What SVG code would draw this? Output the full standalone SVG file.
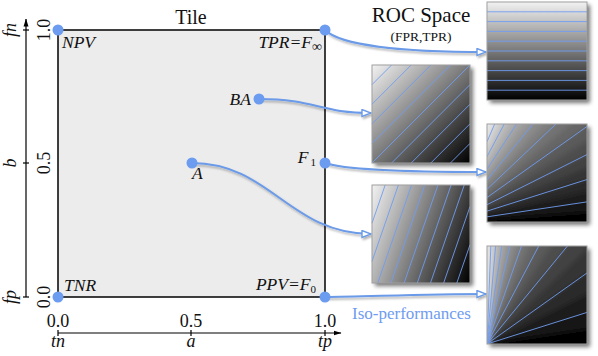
<svg xmlns="http://www.w3.org/2000/svg" width="598" height="356" viewBox="0 0 598 356">
<style>
text{font-family:"Liberation Serif","Times New Roman",serif;fill:#111}
.it{font-style:italic}
.lbl{font-size:17.5px;font-style:italic}
.tick{font-size:18px}
.title{font-size:20px;text-anchor:middle}
.iso{stroke:#6f9cf0;stroke-width:0.9;fill:none}
.frame{fill:none;stroke:#a0a0a0;stroke-width:1}
.shadow{fill:#000}
.con{fill:none;stroke:#6a9ae8;stroke-width:2;marker-end:url(#oa)}
.dot{fill:#6b9cf0}
.axis{stroke:#000;stroke-width:1.2;fill:none}
.w{stroke-width:0.7}
</style>
<defs>
<filter id="sh" x="-20%" y="-20%" width="150%" height="150%">
<feGaussianBlur in="SourceAlpha" stdDeviation="2"/>
<feOffset dx="3" dy="3"/>
<feComponentTransfer><feFuncA type="linear" slope="0.55"/></feComponentTransfer>
</filter>
<filter id="lsh" x="-10%" y="-30%" width="130%" height="180%">
<feDropShadow dx="1.5" dy="2" stdDeviation="1.2" flood-color="#000" flood-opacity="0.3"/>
</filter>
<filter id="soft" x="-5%" y="-5%" width="110%" height="110%">
<feGaussianBlur stdDeviation="2.5"/>
</filter>
<marker id="oa" viewBox="0 0 11 9" refX="10" refY="4.5" markerWidth="11" markerHeight="9" markerUnits="userSpaceOnUse" orient="auto">
<path d="M1,1 L10,4.5 L1,8 Z" fill="#fff" stroke="#6a9ae8" stroke-width="1.4"/>
</marker>
<marker id="ax" viewBox="0 0 8 6" refX="7.5" refY="3" markerWidth="8" markerHeight="6" markerUnits="userSpaceOnUse" orient="auto">
<path d="M0,0.5 L8,3 L0,5.5 Z" fill="#000"/>
</marker>
<linearGradient id="gTPR" gradientUnits="userSpaceOnUse" x1="0" y1="100" x2="0" y2="2">
<stop offset="0" stop-color="#000"/><stop offset="1" stop-color="#f2f2f2"/>
</linearGradient>
<linearGradient id="gBA" gradientUnits="userSpaceOnUse" x1="470" y1="163" x2="372" y2="65">
<stop offset="0" stop-color="#000"/><stop offset="1" stop-color="#f2f2f2"/>
</linearGradient>
<linearGradient id="gA" gradientUnits="userSpaceOnUse" x1="470" y1="283" x2="352.24" y2="242.4">
<stop offset="0" stop-color="#000"/><stop offset="1" stop-color="#f2f2f2"/>
</linearGradient>
<clipPath id="cF1"><rect x="487" y="124" width="100" height="98"/></clipPath>
<clipPath id="cF0"><rect x="487" y="246" width="100" height="98"/></clipPath>
</defs>

<g id="axes">
<line class="axis" x1="26" y1="297" x2="26" y2="19" marker-end="url(#ax)"/>
<line class="axis" x1="23" y1="30" x2="29" y2="30"/>
<line class="axis" x1="23" y1="163" x2="29" y2="163"/>
<line class="axis" x1="23" y1="297" x2="29" y2="297"/>
<line class="axis" x1="58" y1="333" x2="341" y2="333" marker-end="url(#ax)"/>
<line class="axis" x1="58" y1="330" x2="58" y2="336"/>
<line class="axis" x1="191" y1="330" x2="191" y2="336"/>
<line class="axis" x1="325" y1="330" x2="325" y2="336"/>
<text class="tick" text-anchor="middle" transform="translate(50,30) rotate(-90)">1.0</text>
<text class="tick" text-anchor="middle" transform="translate(50,163) rotate(-90)">0.5</text>
<text class="tick" text-anchor="middle" transform="translate(50,297) rotate(-90)">0.0</text>
<text class="tick it" text-anchor="middle" transform="translate(15.5,30) rotate(-90)">fn</text>
<text class="tick it" text-anchor="middle" transform="translate(15.5,163) rotate(-90)">b</text>
<text class="tick it" text-anchor="middle" transform="translate(15.5,297) rotate(-90)">fp</text>
<text class="tick" x="58" y="327" text-anchor="middle">0.0</text>
<text class="tick" x="191" y="327" text-anchor="middle">0.5</text>
<text class="tick" x="325" y="327" text-anchor="middle">1.0</text>
<text class="tick it" x="58" y="347" text-anchor="middle">tn</text>
<text class="tick it" x="191" y="347" text-anchor="middle">a</text>
<text class="tick it" x="325" y="347" text-anchor="middle">tp</text>
</g>

<g id="tile">
<rect x="58" y="30" width="267" height="267" fill="#ececec" stroke="#000" stroke-width="1.5"/>
<text class="title" x="191" y="24">Tile</text>
</g>

<g id="roc-title">
<text x="421" y="22" font-size="21" text-anchor="middle">ROC Space</text>
<text x="421" y="41" font-size="13.5" text-anchor="middle">(FPR,TPR)</text>
</g>

<g id="connectors" filter="url(#lsh)">
<path class="con" d="M325,30 C340,45 400,52 486,52"/>
<path class="con" d="M259,99 C315,99 320,113 371,113"/>
<path class="con" d="M325,163 C345,170 420,172 486,172"/>
<path class="con" d="M192,163 C270,163 290,234 371,234"/>
<path class="con" d="M325,297 C360,297 420,294 486,294"/>
</g>

<g id="npv"><circle class="dot" cx="58" cy="30" r="5.5"/><text class="lbl" x="62" y="48">NPV</text></g>
<g id="tpr"><circle class="dot" cx="325" cy="30" r="5.5"/><text class="lbl" x="322" y="48" text-anchor="end">TPR=F<tspan font-size="14" font-style="normal" dy="3">∞</tspan></text></g>
<g id="ba"><circle class="dot" cx="259" cy="99" r="5.5"/><text class="lbl" x="251" y="105" text-anchor="end">BA</text></g>
<g id="f1"><circle class="dot" cx="325" cy="163" r="5.5"/><text class="lbl" x="316" y="163" text-anchor="end">F<tspan font-size="11" font-style="normal" dx="2" dy="3">1</tspan></text></g>
<g id="a"><circle class="dot" cx="192" cy="163" r="5.5"/><text class="lbl" x="192" y="179">A</text></g>
<g id="tnr"><circle class="dot" cx="58" cy="297" r="5.5"/><text class="lbl" x="64" y="291">TNR</text></g>
<g id="ppv"><circle class="dot" cx="325" cy="297" r="5.5"/><text class="lbl" x="316" y="290" text-anchor="end">PPV=F<tspan font-size="11" font-style="normal" dy="3">0</tspan></text></g>

<g id="panel-tpr">
<rect class="shadow" x="487" y="2" width="100" height="98" filter="url(#sh)"/>
<rect x="487" y="2" width="100" height="98" fill="url(#gTPR)"/>
<path class="iso" d="M487,11.8H587M487,21.6H587M487,31.4H587M487,41.2H587M487,51H587M487,60.8H587M487,70.6H587M487,80.4H587M487,90.2H587"/>
<rect class="frame" x="487" y="2" width="100" height="98"/>
</g>

<g id="panel-ba">
<rect class="shadow" x="372" y="65" width="98" height="98" filter="url(#sh)"/>
<rect x="372" y="65" width="98" height="98" fill="url(#gBA)"/>
<path class="iso" d="M372,84.6L391.6,65M372,104.2L411.2,65M372,123.8L430.8,65M372,143.4L450.4,65M372,163L470,65M391.6,163L470,84.6M411.2,163L470,104.2M430.8,163L470,123.8M450.4,163L470,143.4"/>
<rect class="frame" x="372" y="65" width="98" height="98"/>
</g>

<g id="panel-f1">
<rect class="shadow" x="487" y="124" width="100" height="98" filter="url(#sh)"/>
<g clip-path="url(#cF1)">
<rect x="487" y="124" width="100" height="98" fill="#000"/>
<g filter="url(#soft)">
<path class="w" fill="#060606" stroke="#060606" d="M452.52,222L602.5,222L602.5,211.07Z"/>
<path class="w" fill="#121212" stroke="#121212" d="M452.52,222L602.5,211.07L602.5,199.56Z"/>
<path class="w" fill="#1e1e1e" stroke="#1e1e1e" d="M452.52,222L602.5,199.56L602.5,187.43Z"/>
<path class="w" fill="#2a2a2a" stroke="#2a2a2a" d="M452.52,222L602.5,187.43L602.5,174.63Z"/>
<path class="w" fill="#363636" stroke="#363636" d="M452.52,222L602.5,174.63L602.5,161.1Z"/>
<path class="w" fill="#424242" stroke="#424242" d="M452.52,222L602.5,161.1L602.5,146.77Z"/>
<path class="w" fill="#4e4e4e" stroke="#4e4e4e" d="M452.52,222L602.5,146.77L602.5,131.57Z"/>
<path class="w" fill="#5a5a5a" stroke="#5a5a5a" d="M452.52,222L602.5,131.57L602.5,115.42Z"/>
<path class="w" fill="#666666" stroke="#666666" d="M452.52,222L602.5,115.42L602.5,98.24Z"/>
<path class="w" fill="#727272" stroke="#727272" d="M452.52,222L602.5,98.24L602.5,79.9Z"/>
<path class="w" fill="#7e7e7e" stroke="#7e7e7e" d="M452.52,222L602.5,79.9L602.5,60.3Z"/>
<path class="w" fill="#8a8a8a" stroke="#8a8a8a" d="M452.52,222L602.5,60.3L602.5,39.3Z"/>
<path class="w" fill="#969696" stroke="#969696" d="M452.52,222L602.5,39.3L602.5,16.74Z"/>
<path class="w" fill="#a2a2a2" stroke="#a2a2a2" d="M452.52,222L602.5,16.74L602.5,-7.55Z"/>
<path class="w" fill="#aeaeae" stroke="#aeaeae" d="M452.52,222L602.5,-7.55L602.5,-33.78Z"/>
<path class="w" fill="#bababa" stroke="#bababa" d="M452.52,222L602.5,-33.78L602.5,-62.2Z"/>
<path class="w" fill="#c6c6c6" stroke="#c6c6c6" d="M452.52,222L602.5,-62.2L602.5,-93.09Z"/>
<path class="w" fill="#d2d2d2" stroke="#d2d2d2" d="M452.52,222L602.5,-93.09L602.5,-126.79Z"/>
<path class="w" fill="#dedede" stroke="#dedede" d="M452.52,222L602.5,-126.79L602.5,-163.7Z"/>
<path class="w" fill="#eaeaea" stroke="#eaeaea" d="M452.52,222L602.5,-163.7L602.5,-400L420,-400Z"/>
</g>
<path class="iso" d="M487,216.84L587,201.88M487,211.11L587,179.53M487,204.71L587,154.56M487,197.5L587,126.45M487,189.33L555.97,124M487,180L532.98,124M487,169.23L516.56,124M487,156.67L504.24,124M487,141.82L494.66,124"/>
</g>
<rect class="frame" x="487" y="124" width="100" height="98"/>
</g>

<g id="panel-a">
<rect class="shadow" x="372" y="185" width="98" height="98" filter="url(#sh)"/>
<rect x="372" y="185" width="98" height="98" fill="url(#gA)"/>
<path class="iso" d="M372,223.22L385.18,185M372,261.44L398.36,185M377.74,283L411.54,185M390.92,283L424.72,185M404.1,283L437.9,185M417.28,283L451.08,185M430.46,283L464.26,185M443.64,283L470,206.56M456.82,283L470,244.78"/>
<rect class="frame" x="372" y="185" width="98" height="98"/>
</g>

<g id="panel-f0">
<rect class="shadow" x="487" y="246" width="100" height="98" filter="url(#sh)"/>
<g clip-path="url(#cF0)">
<rect x="487" y="246" width="100" height="98" fill="#000"/>
<g filter="url(#soft)">
<path class="w" fill="#060606" stroke="#060606" d="M487,344L687,344L687,400L487,400Z"/>
<path class="w" fill="#060606" stroke="#060606" d="M487,344L687,344L684.8,314.41Z"/>
<path class="w" fill="#121212" stroke="#121212" d="M487,344L684.8,314.41L677.72,283.78Z"/>
<path class="w" fill="#1e1e1e" stroke="#1e1e1e" d="M487,344L677.72,283.78L665.78,254.34Z"/>
<path class="w" fill="#2a2a2a" stroke="#2a2a2a" d="M487,344L665.78,254.34L650.04,228.16Z"/>
<path class="w" fill="#363636" stroke="#363636" d="M487,344L650.04,228.16L632.19,206.45Z"/>
<path class="w" fill="#424242" stroke="#424242" d="M487,344L632.19,206.45L613.91,189.42Z"/>
<path class="w" fill="#4e4e4e" stroke="#4e4e4e" d="M487,344L613.91,189.42L596.4,176.58Z"/>
<path class="w" fill="#5a5a5a" stroke="#5a5a5a" d="M487,344L596.4,176.58L580.35,167.12Z"/>
<path class="w" fill="#666666" stroke="#666666" d="M487,344L580.35,167.12L566.01,160.27Z"/>
<path class="w" fill="#727272" stroke="#727272" d="M487,344L566.01,160.27L553.38,155.34Z"/>
<path class="w" fill="#7e7e7e" stroke="#7e7e7e" d="M487,344L553.38,155.34L542.33,151.81Z"/>
<path class="w" fill="#8a8a8a" stroke="#8a8a8a" d="M487,344L542.33,151.81L532.68,149.28Z"/>
<path class="w" fill="#969696" stroke="#969696" d="M487,344L532.68,149.28L524.23,147.49Z"/>
<path class="w" fill="#a2a2a2" stroke="#a2a2a2" d="M487,344L524.23,147.49L516.82,146.24Z"/>
<path class="w" fill="#aeaeae" stroke="#aeaeae" d="M487,344L516.82,146.24L510.3,145.36Z"/>
<path class="w" fill="#bababa" stroke="#bababa" d="M487,344L510.3,145.36L504.53,144.77Z"/>
<path class="w" fill="#c6c6c6" stroke="#c6c6c6" d="M487,344L504.53,144.77L499.39,144.38Z"/>
<path class="w" fill="#d2d2d2" stroke="#d2d2d2" d="M487,344L499.39,144.38L494.81,144.15Z"/>
<path class="w" fill="#dedede" stroke="#dedede" d="M487,344L494.81,144.15L490.7,144.03Z"/>
<path class="w" fill="#eaeaea" stroke="#eaeaea" d="M487,344L490.7,144.03L480,144L480,344Z"/>
</g>
<path class="iso" d="M487,344L587,312.42M487,344L587,272.95M487,344L567.46,246M487,344L538.72,246M487,344L521.48,246M487,344L509.99,246M487,344L501.78,246M487,344L495.62,246M487,344L490.83,246"/>
</g>
<rect class="frame" x="487" y="246" width="100" height="98"/>
</g>

<g id="iso-label">
<text x="352" y="319" font-size="17" style="fill:#6f9cf0">Iso-performances</text>
</g>
</svg>
